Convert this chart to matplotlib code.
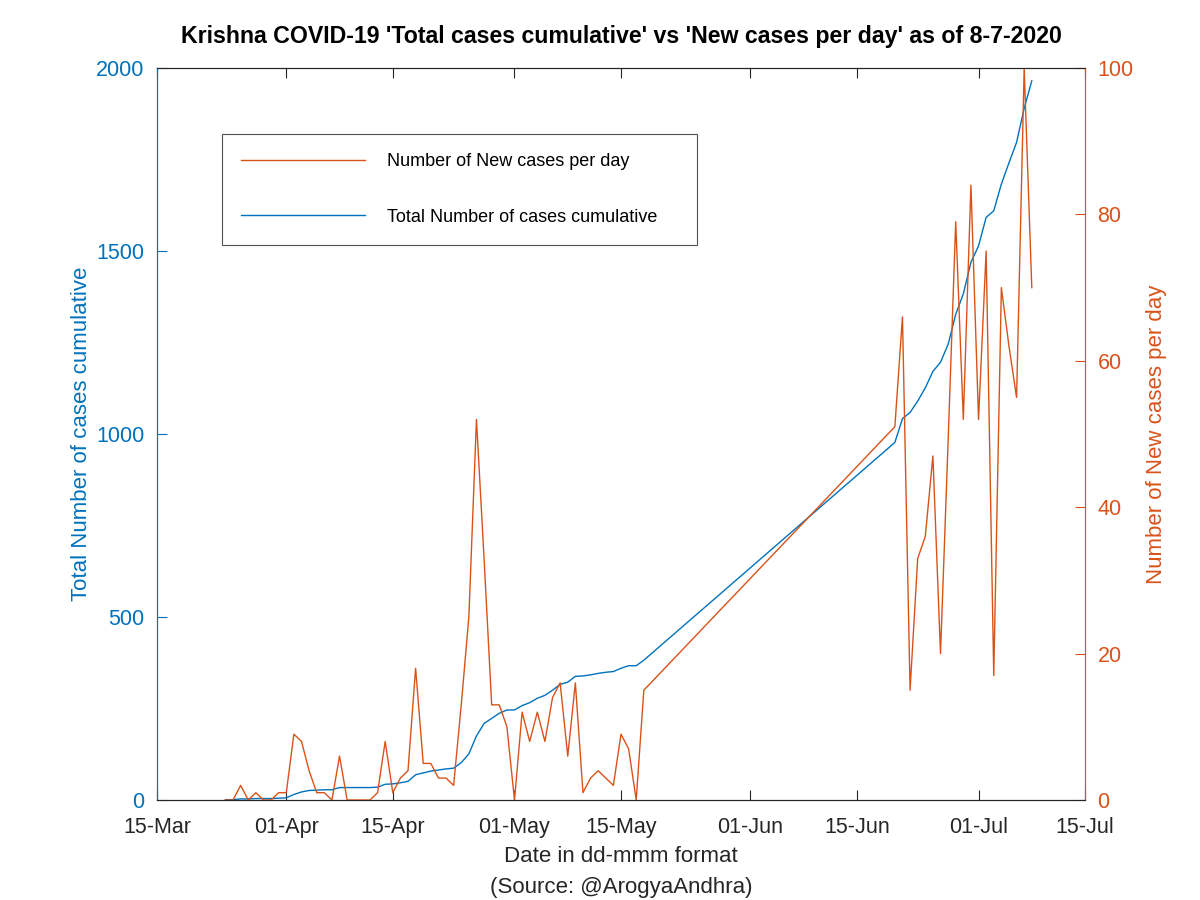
import pandas as pd
import matplotlib
matplotlib.use('Agg')
import matplotlib.pyplot as plt
import matplotlib.dates as mdates

plt.rcParams['font.family'] = ['Liberation Sans', 'DejaVu Sans']

#data, two runs of days with a gap between them
days1 = pd.date_range('2020-03-24', '2020-05-18')
days2 = pd.date_range('2020-06-20', '2020-07-08')
dates = list(days1) + list(days2)

new_cases = [0, 0, 2, 0, 1, 0, 0, 1,
	1, 9, 8, 4, 1, 1, 0, 6, 0, 0, 0, 0, 1, 8, 1, 3, 4, 18, 5, 5, 3, 3, 2, 13, 25, 52, 33, 13, 13, 10,
	0, 12, 8, 12, 8, 14, 16, 6, 16, 1, 3, 4, 3, 2, 9, 7, 0, 15,
	51, 66, 15, 33, 36, 47, 20, 49, 79, 52, 84,
	52, 75, 17, 70, 62, 55, 100, 70]

total_cases = [1, 1, 3, 3, 4, 4, 4, 5,
	6, 15, 22, 26, 27, 28, 28, 34, 34, 34, 34, 34, 35, 43, 44, 47, 51, 69, 74, 79, 82, 85, 87, 102, 126, 175, 209, 223, 237, 246,
	246, 258, 266, 278, 286, 300, 316, 322, 338, 339, 342, 346, 349, 351, 360, 367, 367, 382,
	977, 1042, 1059, 1090, 1126, 1171, 1196, 1245, 1327, 1383, 1469,
	1514, 1592, 1610, 1683, 1741, 1797, 1890, 1965]

xtick_dates = ['2020-03-15', '2020-04-01', '2020-04-15', '2020-05-01', '2020-05-15',
	'2020-06-01', '2020-06-15', '2020-07-01', '2020-07-15']
left_ticks = [0, 500, 1000, 1500, 2000]
right_ticks = [0, 20, 40, 60, 80, 100]

blue = '#0072BD'
orange = '#D95319'
dark = '#262626'

fig = plt.figure(figsize=(12, 9), dpi=100)
ax = fig.add_axes([0.1308, 0.1111, 0.7734, 0.8133])
ax2 = ax.twinx()

l_total, = ax.plot(dates, total_cases, color=blue, lw=1.0, label='Total Number of cases cumulative')
l_new, = ax2.plot(dates, new_cases, color=orange, lw=1.0, label='Number of New cases per day')

ax.set_xlim(pd.Timestamp('2020-03-15'), pd.Timestamp('2020-07-15'))
ax.set_ylim(0, 2000)
ax2.set_ylim(0, 100)
ax.set_xticks(pd.to_datetime(xtick_dates))
ax.xaxis.set_major_formatter(mdates.DateFormatter('%d-%b'))
ax.set_yticks(left_ticks)
ax2.set_yticks(right_ticks)

# matlab-ish axes look
for s in ['top', 'bottom']:
	ax.spines[s].set_color(dark)
	ax2.spines[s].set_color(dark)
ax.spines['left'].set_color(blue)
ax2.spines['left'].set_color(blue)
ax.spines['right'].set_color(orange)
ax2.spines['right'].set_color(orange)

ax.tick_params(axis='x', direction='in', length=7, width=0.8, top=True, colors=dark, labelsize=15.5, pad=12)
ax.tick_params(axis='y', direction='in', length=7, width=0.8, colors=blue, labelsize=15.5, pad=9)
ax2.tick_params(axis='y', direction='in', length=7, width=0.8, colors=orange, labelsize=15.5, pad=9)

ax.set_ylabel('Total Number of cases cumulative', color=blue, fontsize=16, labelpad=3)
ax2.set_ylabel('Number of New cases per day', color=orange, fontsize=16, labelpad=9)
ax.set_xlabel('Date in dd-mmm format\n(Source: @ArogyaAndhra)', color=dark, fontsize=16, labelpad=6, linespacing=1.6)
ax.set_title("Krishna COVID-19 'Total cases cumulative' vs 'New cases per day' as of 8-7-2020",
	fontsize=16.7, fontweight='bold', pad=18)

leg = ax2.legend(handles=[l_new, l_total], loc='upper left', bbox_to_anchor=(0.070, 0.760, 0.512, 0.150),
	mode='expand', borderaxespad=0, fancybox=False, edgecolor=dark, fontsize=13, handlelength=6.9,
	handletextpad=1.2, labelspacing=2.15, borderpad=1.05)
leg.get_frame().set_linewidth(0.8)

fig.savefig('out.png', dpi=100)
